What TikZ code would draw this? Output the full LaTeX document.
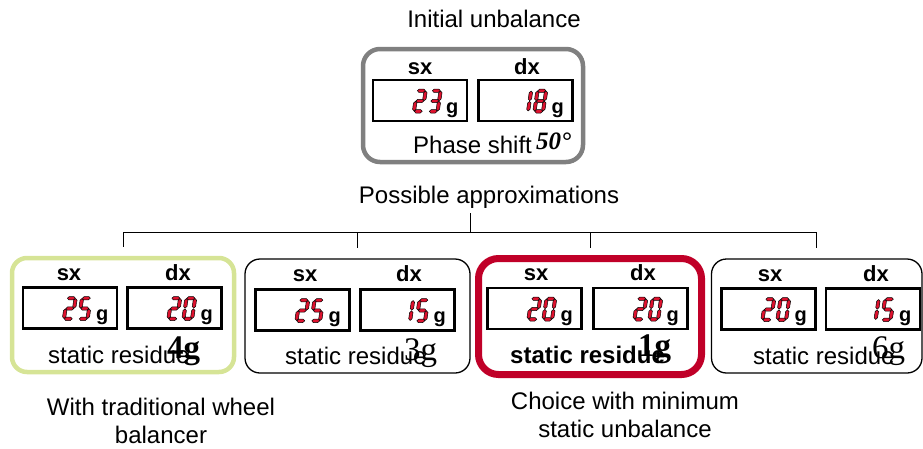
\documentclass[tikz,border=0pt]{standalone}
\usepackage{fontspec}
\setmainfont{Liberation Sans}
\newfontfamily\timesfont{Liberation Serif}
\usetikzlibrary{calc}

\definecolor{boxgray}{RGB}{128,128,128}
\definecolor{boxgreen}{RGB}{214,228,150}
\definecolor{boxred}{RGB}{192,0,40}
\definecolor{segred}{RGB}{222,18,46}

% seven segment read-out
\newcommand{\hseg}[2]{\filldraw[segment] (#1-3.3,#2) -- ++(1.4,1.4) -- ++(3.8,0) -- ++(1.4,-1.4) -- ++(-1.4,-1.4) -- ++(-3.8,0) -- cycle;}
\newcommand{\vseg}[2]{\filldraw[segment] (#1,#2-4) -- ++(1.4,1.4) -- ++(0,5.2) -- ++(-1.4,1.4) -- ++(-1.4,-1.4) -- ++(0,-5.2) -- cycle;}
\newcommand{\sgA}{\hseg{5}{18.6}}
\newcommand{\sgB}{\vseg{8.6}{14.3}}
\newcommand{\sgC}{\vseg{8.6}{5.7}}
\newcommand{\sgD}{\hseg{5}{1.4}}
\newcommand{\sgE}{\vseg{1.4}{5.7}}
\newcommand{\sgF}{\vseg{1.4}{14.3}}
\newcommand{\sgG}{\hseg{5}{10}}
\newcommand{\segdigit}[1]{\ifcase#1\relax
  \sgA\sgB\sgC\sgD\sgE\sgF\or
  \sgB\sgC\or
  \sgA\sgB\sgG\sgE\sgD\or
  \sgA\sgB\sgG\sgC\sgD\or
  \sgF\sgG\sgB\sgC\or
  \sgA\sgF\sgG\sgC\sgD\or
  \sgA\sgF\sgG\sgE\sgC\sgD\or
  \sgA\sgB\sgC\or
  \sgA\sgB\sgC\sgD\sgE\sgF\sgG\or
  \sgA\sgB\sgC\sgD\sgF\sgG\fi}
\newcommand{\readout}[3]{%
  \begin{scope}[shift={($(#1.south east)+(-55,-8)$)}, x=1.2pt, y=1.2pt, xslant=0.15]
    \segdigit{#2}
  \end{scope}
  \begin{scope}[shift={($(#1.south east)+(-40,-8)$)}, x=1.2pt, y=1.2pt, xslant=0.15]
    \segdigit{#3}
  \end{scope}
  \node[unit] (#1 g) at ($(#1.south east)+(-21,-8)$) {g};}

\begin{document}
\begin{tikzpicture}[x=1pt, y=-1pt,
    txt/.style={font=\fontsize{24}{28}\selectfont, inner sep=0pt, anchor=base},
    chan/.style={font=\fontsize{22}{24}\selectfont\bfseries, inner sep=0pt, anchor=base},
    unit/.style={font=\fontsize{20}{22}\selectfont\bfseries, inner sep=0pt, anchor=base west},
    resval/.style={font=\fontsize{33}{35}\selectfont\timesfont, inner sep=0pt, anchor=base west},
    display/.style={draw, line width=2.5pt, minimum width=94pt, minimum height=41pt, inner sep=0pt, outer sep=0pt},
    panel/.style={draw, rounded corners=15pt, line width=1.3pt, inner sep=0pt, outer sep=0pt},
    segment/.style={fill=segred, draw=black, line width=0.5pt}]
    \useasboundingbox (0,0) rectangle (923,448);

    % initial unbalance
    \node[txt]                                   (init)     at (494,27)    {Initial unbalance};
    \node[panel, draw=boxgray, line width=4.5pt, rounded corners=17pt,
          minimum width=220pt, minimum height=113pt]  (box 0)    at (473,105.5) {};
    \node[chan]                                  (sx 0)     at (420,74)    {sx};
    \node[chan]                                  (dx 0)     at (527,74)    {dx};
    \node[display]                               (sx disp 0) at (420,100.5) {};
    \node[display]                               (dx disp 0) at (525.5,100.5) {};
    \readout{sx disp 0}{2}{3}
    \readout{dx disp 0}{1}{8}
    \node[txt, anchor=base west]                 (phase)    at (413,153)   {Phase shift};
    \node[txt, anchor=base west, font=\fontsize{25}{28}\selectfont\timesfont\bfseries\itshape]
                                                 (angle)    at (536,149)   {50°};

    % possible approximations
    \node[txt]                                   (approx)   at (489,203)   {Possible approximations};
    \coordinate (stem) at (470,213);
    \coordinate (fork) at (470,232);

    % box 1
    \node[panel, draw=boxgreen, line width=4.5pt,
          minimum width=222pt, minimum height=114pt]  (box 1)    at (123,315)   {};
    \node[chan]                                  (sx 1)     at (69,280)    {sx};
    \node[chan]                                  (dx 1)     at (178,280)   {dx};
    \node[display]                               (sx disp 1) at (70,308)   {};
    \node[display]                               (dx disp 1) at (174.5,308) {};
    \readout{sx disp 1}{2}{5}
    \readout{dx disp 1}{2}{0}
    \node[txt, anchor=base west]                 (res 1)    at (48,363)    {static residue};
    \node[resval, font=\fontsize{33}{35}\selectfont\timesfont\bfseries] (val 1) at (167,358) {4g};

    % box 2
    \node[panel, minimum width=225pt, minimum height=114pt] (box 2) at (357.5,316) {};
    \node[chan]                                  (sx 2)     at (305,281)   {sx};
    \node[chan]                                  (dx 2)     at (409,281)   {dx};
    \node[display]                               (sx disp 2) at (302.5,310) {};
    \node[display]                               (dx disp 2) at (407.5,310) {};
    \readout{sx disp 2}{2}{5}
    \readout{dx disp 2}{1}{5}
    \node[txt, anchor=base west]                 (res 2)    at (285,364)   {static residue};
    \node[resval]                                (val 2)    at (404,360)   {3g};

    % box 3
    \node[panel, draw=boxred, line width=7pt, rounded corners=20pt,
          minimum width=223pt, minimum height=116pt]  (box 3)    at (590,316.5) {};
    \node[chan]                                  (sx 3)     at (536,280)   {sx};
    \node[chan]                                  (dx 3)     at (643,280)   {dx};
    \node[display]                               (sx disp 3) at (534.5,308.5) {};
    \node[display]                               (dx disp 3) at (640.5,308.5) {};
    \readout{sx disp 3}{2}{0}
    \readout{dx disp 3}{2}{0}
    \node[txt, anchor=base west, font=\fontsize{24}{28}\selectfont\bfseries] (res 3) at (510,363) {static residue};
    \node[resval, font=\fontsize{33}{35}\selectfont\timesfont\bfseries] (val 3) at (638,356) {1g};

    % box 4
    \node[panel, minimum width=210.5pt, minimum height=114pt] (box 4) at (816.75,316) {};
    \node[chan]                                  (sx 4)     at (770,281)   {sx};
    \node[chan]                                  (dx 4)     at (876,281)   {dx};
    \node[display]                               (sx disp 4) at (768.5,309) {};
    \node[display]                               (dx disp 4) at (873,309)   {};
    \readout{sx disp 4}{2}{0}
    \readout{dx disp 4}{1}{5}
    \node[txt, anchor=base west]                 (res 4)    at (753,364)   {static residue};
    \node[resval]                                (val 4)    at (872,358)   {6g};

    % captions
    \node[txt, align=center]                     (trad)     at (161,443)   {With traditional wheel\\balancer};
    \node[txt, align=center]                     (choice)   at (625,437)   {Choice with minimum\\static unbalance};

    \draw[line width=1pt] (stem) -- (fork);
    \draw[line width=1pt] (fork) -| ([yshift=11pt]box 1.north);
    \draw[line width=1pt] (fork) -| ([yshift=11pt]box 2.north);
    \draw[line width=1pt] (fork) -| ([yshift=11pt]box 3.north);
    \draw[line width=1pt] (fork) -| ([yshift=11pt]box 4.north);
\end{tikzpicture}
\end{document}
